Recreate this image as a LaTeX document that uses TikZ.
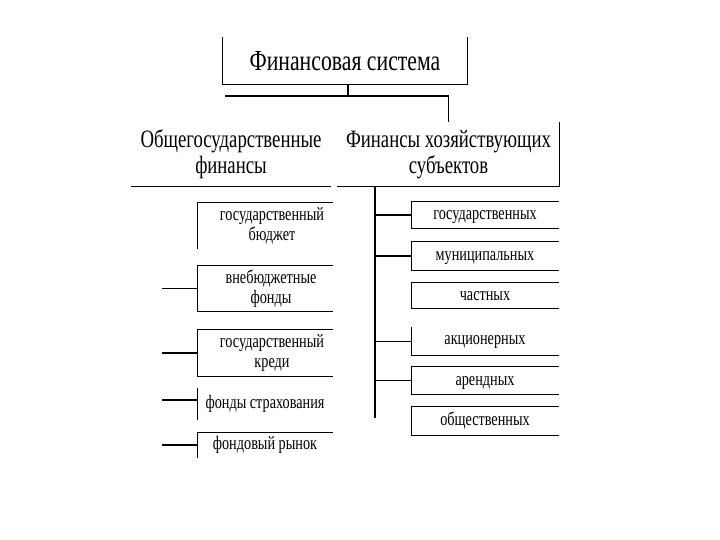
\documentclass[tikz,border=0pt]{standalone}
\usepackage{fontspec}
\newfontfamily\scanfont[FakeStretch=0.75]{Liberation Serif}

\begin{document}
\begin{tikzpicture}[x=1pt,y=-1pt,line width=1.1pt,
    item/.style={inner sep=0pt,align=center,font=\scanfont\fontsize{19}{20}\selectfont},
    line1/.style={item,text height=12pt,text depth=3pt},
    head/.style={inner sep=0pt,align=center,minimum height=63pt,font=\scanfont\fontsize{25}{26}\selectfont},
    lbox/.style={minimum width=134pt,inner sep=0pt},
    rbox/.style={line1,minimum width=146pt}]
\useasboundingbox (0,0) rectangle (720,540);

\node[inner sep=0pt,minimum width=244pt,minimum height=46pt,font=\scanfont\fontsize{29}{30}\selectfont] (sys) at (345,61) {Финансовая система};
\draw (sys.north west) -- (sys.south west) -- (sys.south east) -- (sys.north east);

\node[head,minimum width=198pt] (gen) at (231,154.5) {Общегосударственные\\финансы};
\node[head,minimum width=221pt] (fin) at (448.5,154.5) {Финансы хозяйствующих\\субъектов};
\draw (gen.south west) -- (gen.south east);
\draw (fin.south west) -- (fin.south east) -- (fin.north east);

\coordinate (j) at (348,96);
\coordinate (jl) at (225,96);
\draw (sys.south -| j) -- (j);
\draw (jl) -- (j) -| (fin.north);

% left column
\node[lbox,minimum height=45pt] (l1) at (265,225.5) {};
\node[lbox,minimum height=45pt] (l2) at (265,288.5) {};
\node[lbox,minimum height=46pt] (l3) at (265,353) {};
\node[item] (l1t) at ([xshift=7pt]l1.center) {государственный\\бюджет};
\node[item] (l2t) at ([xshift=6pt]l2.center) {внебюджетные\\фонды};
\node[item] (l3t) at ([xshift=7pt]l3.center) {государственный\\креди};
\node[lbox,line1,minimum height=30pt] (l4) at (265,404) {фонды страхования};
\node[lbox,line1,minimum height=24pt] (l5) at (265,445) {фондовый рынок};
\draw (l1.north east) -- (l1.north west) -- (l1.south west);
\draw (l2.north east) -- (l2.north west) -- (l2.south west) -- (l2.south east);
\draw (l3.north east) -- (l3.north west) -- (l3.south west) -- (l3.south east);
\draw (l4.north west) -- (l4.south west);
\draw (l5.north east) -- (l5.north west) -- (l5.south west);
\coordinate (ls) at (162,0);
\foreach \b in {l2,l3,l5}
  \draw (\b.west -| ls) -- (\b.west);
\draw ([yshift=4pt]l4.west -| ls) -- ([yshift=4pt]l4.west);

% right column
\coordinate (rs) at (375,186);
\coordinate (re) at (375,418);
\draw (rs) -- (re);
\node[rbox,minimum height=26pt] (r1) at (485,215) {государственных};
\node[rbox,minimum height=28pt] (r2) at (485,256) {муниципальных};
\node[rbox,minimum height=25pt] (r3) at (485,295.5) {частных};
\node[rbox,minimum height=27pt,text depth=7pt] (r4) at (485,341.5) {акционерных};
\node[rbox,minimum height=27pt] (r5) at (485,380.5) {арендных};
\node[rbox,minimum height=28pt] (r6) at (485,421) {общественных};
\foreach \b in {r1,r2,r3,r5,r6}
  \draw (\b.north east) -- (\b.north west) -- (\b.south west) -- (\b.south east);
\draw (r4.north west) -- (r4.south west) -- (r4.south east);
\foreach \b in {r1,r2,r4,r5}
  \draw (\b.west -| rs) -- (\b.west);
\end{tikzpicture}
\end{document}
